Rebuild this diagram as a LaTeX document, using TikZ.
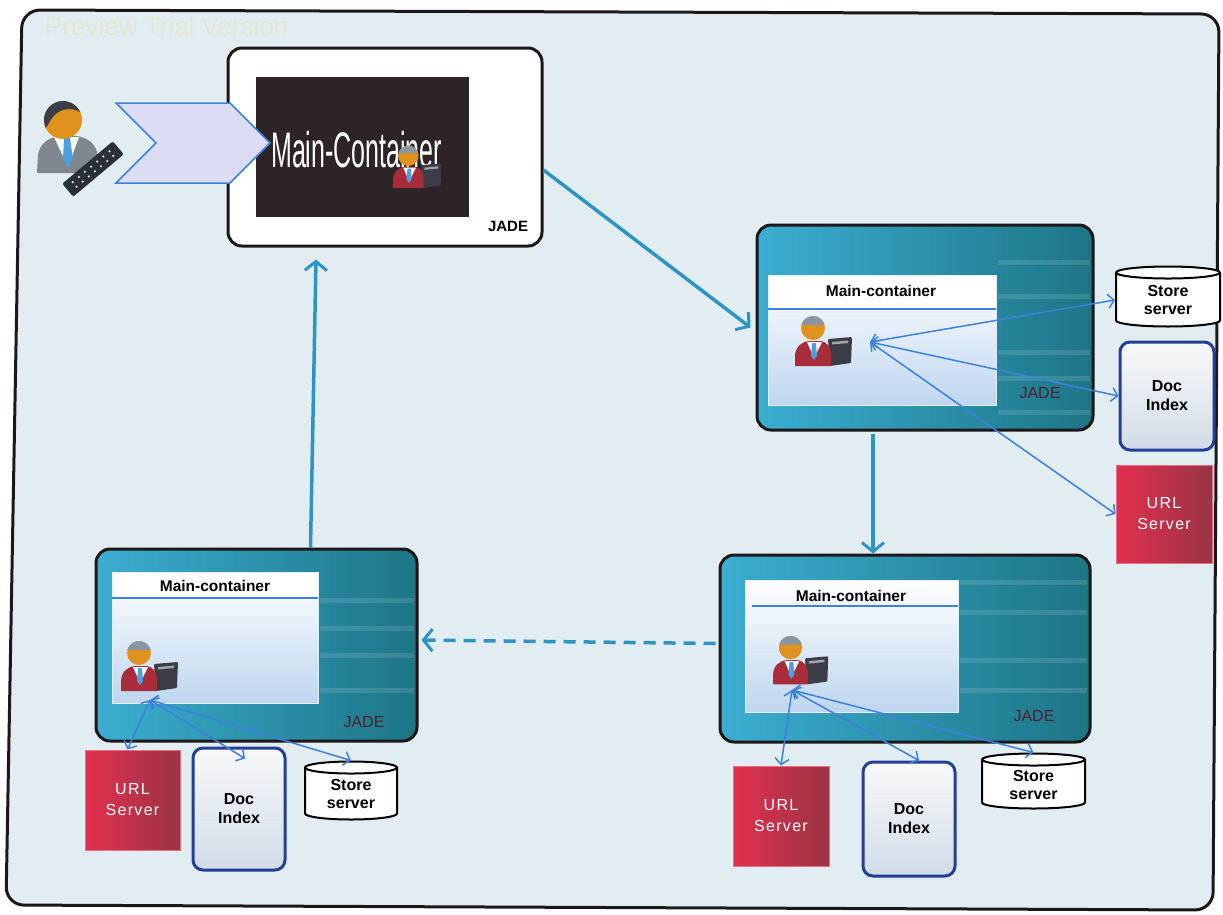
\documentclass[tikz,border=0pt]{standalone}
\usepackage{fontspec}
\setmainfont{Liberation Sans}
\newfontfamily\narrowfont[FakeStretch=0.5]{Liberation Sans}
\usetikzlibrary{arrows.meta, shapes.geometric, shapes.symbols}

\definecolor{framefill}{HTML}{E2EDF2}
\definecolor{framedraw}{HTML}{1E1719}
\definecolor{flowblue}{HTML}{2E94C4}
\definecolor{linkblue}{HTML}{3C82DC}
\definecolor{jadelight}{HTML}{3CAED2}
\definecolor{jadedark}{HTML}{1D7585}
\definecolor{panelblue}{HTML}{BED6EF}
\definecolor{screendark}{HTML}{2D2427}
\definecolor{chevfill}{HTML}{DCDCF5}
\definecolor{docblue}{HTML}{233F96}
\definecolor{urllight}{HTML}{E2304F}
\definecolor{urldark}{HTML}{993444}
\definecolor{jadetext}{HTML}{4E1E2C}
\definecolor{skin}{HTML}{E0921E}
\definecolor{hairgray}{HTML}{8796A4}
\definecolor{hairdark}{HTML}{3A3E48}
\definecolor{agentred}{HTML}{A82C3A}
\definecolor{tieblue}{HTML}{4AA0E0}
\definecolor{suitgray}{HTML}{7F868E}
\definecolor{keydark}{HTML}{2A2F38}
\definecolor{notedark}{HTML}{3B3C46}
\definecolor{watermark}{HTML}{E2E8D2}

\tikzset{
    frame/.style={draw=framedraw, line width=3pt, fill=framefill, rounded corners=18pt},
    jadebox/.style={draw=framedraw, line width=3pt, rounded corners=14pt,
        left color=jadelight, right color=jadedark, inner sep=0pt},
    panel/.style={top color=white, bottom color=panelblue, draw=white!60!panelblue,
        line width=1pt, inner sep=0pt},
    paneltitle/.style={font=\fontsize{15.5}{17}\selectfont\bfseries, text=black},
    jadelabel/.style={font=\fontsize{16}{18}\selectfont, text=jadetext},
    store/.style={cylinder, shape border rotate=90, aspect=0.25, draw=black, line width=2pt,
        fill=white, align=center, inner sep=0pt,
        font=\fontsize{16}{18}\selectfont\bfseries},
    docidx/.style={draw=docblue, line width=3pt, rounded corners=10pt,
        top color=white!95!gray, bottom color=gray!20!panelblue!60, align=center,
        inner sep=0pt, font=\fontsize{16}{19}\selectfont\bfseries},
    urlsrv/.style={left color=urllight, right color=urldark, draw=urllight!70!white,
        line width=1pt, align=center, inner sep=0pt, text=white,
        font=\fontsize{16}{21}\selectfont\addfontfeature{LetterSpace=8}},
    flow/.style={draw=flowblue, line width=3.5pt,
        -{Straight Barb[length=9pt, width=22pt, line width=3pt]}},
    link/.style={draw=linkblue, line width=1.5pt,
        {Straight Barb[length=6pt, width=14pt]}-{Straight Barb[length=6pt, width=14pt]}},
    % agent with notebook, 60x55 from its top left corner
    agent/.pic={
        \fill[notedark, rounded corners=1pt] (33,26) -- (57,24) -- (56,50) -- (35,53) -- cycle;
        \fill[gray!70] (37,29) -- (53,27.5) -- (53,30) -- (37,31.5) -- cycle;
        \fill[agentred] (0,53) -- (0,44) .. controls (0,34) and (6,29) .. (14,28)
            -- (26,28) .. controls (32,29) and (36,34) .. (36,42) -- (36,53) -- cycle;
        \fill[white] (12,29) -- (27,29) -- (19,45) -- cycle;
        \fill[tieblue] (17,30) -- (21,30) -- (22,43) -- (19,47) -- (16,43) -- cycle;
        \fill[skin] (18,15) circle (12pt);
        \fill[hairgray] (18,15) ++(165:12pt) arc[start angle=165, end angle=15, radius=12pt] -- cycle;
    },
    % user at a keyboard
    user/.pic={
        \fill[suitgray] (2,80) -- (3,62) .. controls (5,50) and (14,44) .. (26,43)
            -- (42,43) .. controls (54,45) and (62,52) .. (63,64) -- (63,80) -- cycle;
        \fill[white] (19,44) -- (44,44) -- (33,74) -- cycle;
        \fill[tieblue] (29,45) -- (35,45) -- (38,66) -- (33,74) -- (28,66) -- cycle;
        \fill[skin] (28,27) circle (19pt);
        \fill[hairdark] (28,27) ++(205:19pt) arc[start angle=205, end angle=25, radius=19pt]
            .. controls (36,14) and (22,14) .. (14,30) -- cycle;
        \node[fill=keydark, rounded corners=2pt, minimum width=66pt, minimum height=17pt,
            inner sep=0pt, rotate=40] at (58,76) {};
        \foreach \d in {-24,-16,...,24} {
            \fill[white!80!gray] (58,76) ++(40:\d pt) ++(130:3pt) circle (1.2pt);
            \fill[white!80!gray] (58,76) ++(40:\d pt) ++(-50:3pt) circle (1.2pt);
        }
    },
}

\begin{document}
\begin{tikzpicture}[x=1pt, y=-1pt]
    \useasboundingbox[fill=white] (0,0) rectangle (1223,914);

    % sheet
    \draw[frame] (22,10) -- (1219,14) -- (1213,910) -- (6,905) -- cycle;
    \begin{scope}
        \clip (26,14) rectangle (1210,900);
        \node[anchor=east, text=watermark, font=\fontsize{26}{28}\selectfont] (trial) at (292,26) {Preview Trial Version};
    \end{scope}

    % main JADE platform
    \node[draw=framedraw, line width=3pt, rounded corners=14pt, fill=white,
        minimum width=314pt, minimum height=198pt] (topjade) at (385,147) {};
    \node[fill=screendark, minimum width=213pt, minimum height=140pt, inner sep=0pt] (screen) at (362.5,147) {};

    % user and request
    \pic at (35,93) {user};
    \node[signal, signal from=west, signal to=east, fill=chevfill, draw=linkblue,
        line width=1.5pt, minimum width=154pt, minimum height=80pt, inner sep=0pt] (request) at (193,143) {};

    \node[anchor=west, text=white, font=\narrowfont\fontsize{50}{52}\selectfont, inner sep=0pt] (toptitle) at (271,150) {Main-Container};
    \pic[scale=0.85] at (393,143) {agent};
    \node[font=\fontsize{15}{17}\selectfont\bfseries] (toplabel) at (508,226) {JADE};

    % platform A
    \node[jadebox, minimum width=336pt, minimum height=205pt] (jadeA) at (925,327.5) {};
    \foreach \y in {262,296,352,378,412}
        \draw[white, opacity=0.12, line width=5pt] (998,\y) -- (1090,\y);
    \node[panel, minimum width=228pt, minimum height=130pt] (panelA) at (882,340) {};
    \fill[white] (768.5,275.5) rectangle (995.5,308);
    \draw[linkblue, line width=1.5pt] (768,309) -- (996,309);
    \node[paneltitle] (titleA) at (881,291) {Main-container};
    \pic at (795,313) {agent};
    \coordinate (agentA) at (870,342);
    \node[jadelabel] (labelA) at (1040,393) {JADE};
    \node[store, minimum width=104pt, minimum height=60pt] (storeA) at (1168,300) {Store\\server};
    \node[docidx, minimum width=94pt, minimum height=108pt] (docA) at (1167,396) {Doc\\Index};
    \node[urlsrv, minimum width=96pt, minimum height=98pt] (urlA) at (1164,514) {URL\\Server};
    \draw[link] (agentA) -- (storeA.west);
    \draw[link] (agentA) -- (docA.west);
    \draw[link] (agentA) -- (urlA.west);

    % platform B
    \node[jadebox, minimum width=370pt, minimum height=187pt] (jadeB) at (905,648.5) {};
    \foreach \y in {582,612,660,690}
        \draw[white, opacity=0.12, line width=5pt] (960,\y) -- (1087,\y);
    \node[panel, minimum width=213pt, minimum height=132pt] (panelB) at (851.5,646) {};
    \draw[linkblue, line width=1.5pt] (752,606) -- (958,606);
    \node[paneltitle] (titleB) at (851,596) {Main-container};
    \pic[scale=0.97] at (773,633) {agent};
    \coordinate (agentB) at (792,690);
    \node[jadelabel] (labelB) at (1034,716) {JADE};
    \node[urlsrv, minimum width=96pt, minimum height=100pt] (urlB) at (781,816) {URL\\Server};
    \node[docidx, minimum width=92pt, minimum height=114pt] (docB) at (909,819) {Doc\\Index};
    \node[store, minimum width=103pt, minimum height=55pt] (storeB) at (1033.5,784.5) {Store\\server};
    \draw[link] (agentB) -- (urlB.north);
    \draw[link] (agentB) -- ([xshift=10pt]docB.north);
    \draw[link] (agentB) -- (storeB.north);

    % platform C
    \node[jadebox, minimum width=321pt, minimum height=192pt] (jadeC) at (256.5,645) {};
    \foreach \y in {600,628,655,690}
        \draw[white, opacity=0.12, line width=5pt] (320,\y) -- (414,\y);
    \node[panel, minimum width=206pt, minimum height=131pt] (panelC) at (215,637.5) {};
    \fill[white] (112.5,572.5) rectangle (317.5,597);
    \draw[linkblue, line width=1.5pt] (112,598) -- (318,598);
    \node[paneltitle] (titleC) at (215,586) {Main-container};
    \pic at (121,638) {agent};
    \coordinate (agentC) at (150,700);
    \node[jadelabel] (labelC) at (364,722) {JADE};
    \node[urlsrv, minimum width=95pt, minimum height=100pt] (urlC) at (132.5,800) {URL\\Server};
    \node[docidx, minimum width=92pt, minimum height=122pt] (docC) at (239,809) {Doc\\Index};
    \node[store, minimum width=92pt, minimum height=58pt] (storeC) at (351,794) {Store\\server};
    \draw[link] (agentC) -- ([xshift=-5pt]urlC.north);
    \draw[link] (agentC) -- ([xshift=6pt,yshift=-12pt]docC.north);
    \draw[link] (agentC) -- (storeC.north);

    % migration between platforms
    \draw[flow] ([yshift=-23pt]topjade.east) -- ([xshift=-5pt]jadeA.west);
    \draw[flow] (agentA |- jadeA.south) ++(3,2) -- ([xshift=3pt]agentA |- jadeB.north);
    \draw[flow, dash pattern=on 12pt off 8pt] ([xshift=-3pt, yshift=5pt]jadeB.west) -- ([xshift=3pt, yshift=5pt]jadeC.east);
    \draw[flow] ([xshift=54pt]jadeC.north) -- ([xshift=-69pt, yshift=-12pt]topjade.south);
\end{tikzpicture}
\end{document}
